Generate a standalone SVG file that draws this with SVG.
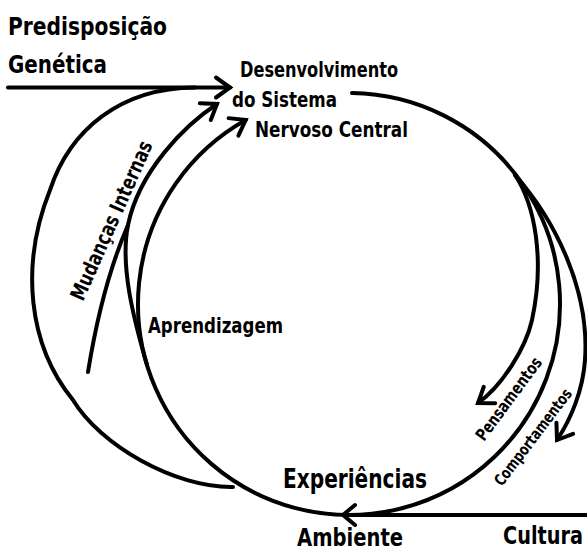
<svg xmlns="http://www.w3.org/2000/svg" width="587" height="552" viewBox="0 0 587 552">
<style>
.ln{fill:none;stroke:#000;stroke-width:4;stroke-linecap:round}
.t{font-family:"DejaVu Sans Condensed","DejaVu Sans",sans-serif;font-weight:bold;fill:#000}
</style>
<defs>
<marker id="arr" markerUnits="userSpaceOnUse" markerWidth="40" markerHeight="40" refX="0" refY="0" orient="auto" overflow="visible">
<path d="M-14,-10 L0,0 L-14,10" fill="none" stroke="#000" stroke-width="4" stroke-linecap="round" stroke-linejoin="miter"/>
</marker>
</defs>
<rect width="587" height="552" fill="#fff"/>
<g id="connectors">
<path class="ln" d="M8,87.5 H230" marker-end="url(#arr)"/>
<path class="ln" d="M195,87.5 C120,88 70,130 50,190 C20,265 28,345 73,400 C100,445 175,488 233,487"/>
<path class="ln" d="M352,93 A211,211 0 1 1 245.7,120" marker-end="url(#arr)"/>
<path class="ln" d="M147,365 C133,317 120,265 128,225 C139,171 185,125 217,104" marker-end="url(#arr)"/>
<path class="ln" d="M88,372 C98,310 112,262 128,225"/>
<path class="ln" d="M515,175 C535,205 545,260 532,320 C525.6,349 501,387 478,403" marker-end="url(#arr)"/>
<path class="ln" d="M515,175 C555,220 590,290 585,360 C583,390 571,419 557,440" marker-end="url(#arr)"/>
<path class="ln" d="M355,505 L343,515 L355,525"/>
<path class="ln" d="M343,515 H590" stroke-width="3.5"/>
</g>
<g id="predisposicao"><text class="t" x="8" y="35" font-size="24" textLength="159" lengthAdjust="spacingAndGlyphs">Predisposição</text>
<text class="t" x="8" y="73" font-size="24" textLength="99" lengthAdjust="spacingAndGlyphs">Genética</text></g>
<g id="desenvolvimento"><text class="t" x="240" y="77" font-size="21" textLength="158" lengthAdjust="spacingAndGlyphs">Desenvolvimento</text>
<text class="t" x="232" y="107" font-size="21" textLength="105" lengthAdjust="spacingAndGlyphs">do Sistema</text>
<text class="t" x="255" y="137" font-size="21" textLength="153" lengthAdjust="spacingAndGlyphs">Nervoso Central</text></g>
<g id="mudancas"><text class="t" transform="translate(83,302) rotate(-66)" font-size="21" textLength="172" lengthAdjust="spacingAndGlyphs">Mudanças Internas</text></g>
<g id="aprendizagem"><text class="t" x="148" y="333" font-size="21" textLength="135" lengthAdjust="spacingAndGlyphs">Aprendizagem</text></g>
<g id="pensamentos"><text class="t" transform="translate(484,442) rotate(-53.5)" font-size="17" textLength="99" lengthAdjust="spacingAndGlyphs">Pensamentos</text></g>
<g id="comportamentos"><text class="t" transform="translate(502,487) rotate(-52.8)" font-size="16" textLength="117" lengthAdjust="spacingAndGlyphs">Comportamentos</text></g>
<g id="experiencias"><text class="t" x="283" y="488" font-size="26" textLength="144" lengthAdjust="spacingAndGlyphs">Experiências</text></g>
<g id="ambiente"><text class="t" x="297" y="546" font-size="25" textLength="106" lengthAdjust="spacingAndGlyphs">Ambiente</text></g>
<g id="cultura"><text class="t" x="503" y="544" font-size="25" textLength="80" lengthAdjust="spacingAndGlyphs">Cultura</text></g>
</svg>
